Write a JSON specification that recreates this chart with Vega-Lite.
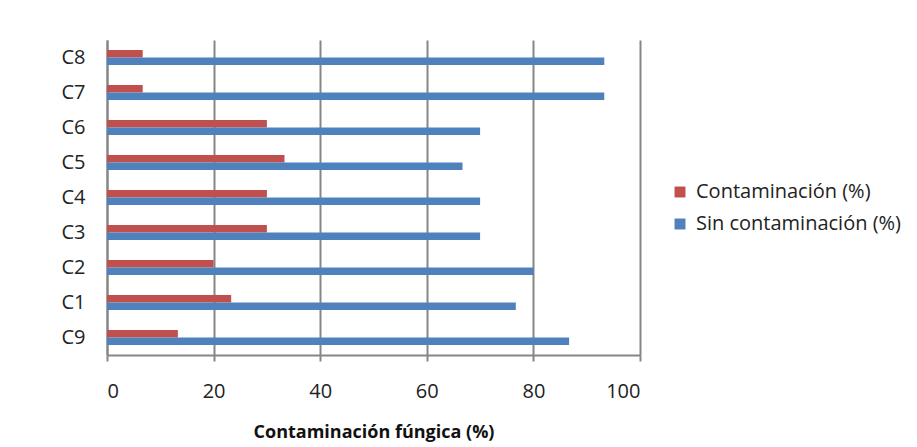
{
  "$schema": "https://vega.github.io/schema/vega-lite/v6.json",
  "autosize": "none",
  "width": 533,
  "height": 315,
  "padding": {"left": 107, "top": 40, "right": 277, "bottom": 92},
  "background": "white",
  "config": {
    "font": "Open Sans",
    "view": {"stroke": null}
  },
  "data": {
    "values": [
      {"cat": "C8", "serie": "Contaminación (%)", "valor": 6.7},
      {"cat": "C8", "serie": "Sin contaminación (%)", "valor": 93.3},
      {"cat": "C7", "serie": "Contaminación (%)", "valor": 6.7},
      {"cat": "C7", "serie": "Sin contaminación (%)", "valor": 93.3},
      {"cat": "C6", "serie": "Contaminación (%)", "valor": 30},
      {"cat": "C6", "serie": "Sin contaminación (%)", "valor": 70},
      {"cat": "C5", "serie": "Contaminación (%)", "valor": 33.3},
      {"cat": "C5", "serie": "Sin contaminación (%)", "valor": 66.7},
      {"cat": "C4", "serie": "Contaminación (%)", "valor": 30},
      {"cat": "C4", "serie": "Sin contaminación (%)", "valor": 70},
      {"cat": "C3", "serie": "Contaminación (%)", "valor": 30},
      {"cat": "C3", "serie": "Sin contaminación (%)", "valor": 70},
      {"cat": "C2", "serie": "Contaminación (%)", "valor": 20},
      {"cat": "C2", "serie": "Sin contaminación (%)", "valor": 80},
      {"cat": "C1", "serie": "Contaminación (%)", "valor": 23.3},
      {"cat": "C1", "serie": "Sin contaminación (%)", "valor": 76.7},
      {"cat": "C9", "serie": "Contaminación (%)", "valor": 13.3},
      {"cat": "C9", "serie": "Sin contaminación (%)", "valor": 86.7}
    ]
  },
  "mark": {"type": "bar"},
  "encoding": {
    "y": {
      "field": "cat",
      "type": "nominal",
      "sort": ["C8", "C7", "C6", "C5", "C4", "C3", "C2", "C1", "C9"],
      "scale": {"paddingInner": 0.57, "paddingOuter": 0.285},
      "axis": {
        "title": null,
        "ticks": false,
        "labelPadding": 22,
        "labelFontSize": 20,
        "labelColor": "#222222",
        "domainColor": "#868686",
        "domainWidth": 2
      }
    },
    "yOffset": {
      "field": "serie",
      "type": "nominal",
      "sort": ["Contaminación (%)", "Sin contaminación (%)"]
    },
    "x": {
      "field": "valor",
      "type": "quantitative",
      "scale": {"domain": [0, 100], "nice": false},
      "axis": {
        "values": [0, 20, 40, 60, 80, 100],
        "title": "Contaminación fúngica (%)",
        "titleFontSize": 18,
        "titleFontWeight": "bold",
        "titleColor": "#111111",
        "titlePadding": 22,
        "labelFontSize": 20,
        "labelColor": "#222222",
        "labelPadding": 20,
        "tickSize": 6,
        "tickColor": "#868686",
        "tickWidth": 2,
        "domainColor": "#868686",
        "domainWidth": 2,
        "grid": true,
        "gridColor": "#868686",
        "gridWidth": 2
      }
    },
    "color": {
      "field": "serie",
      "type": "nominal",
      "sort": ["Contaminación (%)", "Sin contaminación (%)"],
      "scale": {"domain": ["Contaminación (%)", "Sin contaminación (%)"], "range": ["#C0504D", "#4F81BD"]},
      "legend": {
        "title": null,
        "orient": "none",
        "legendX": 563,
        "legendY": 142,
        "symbolType": "square",
        "symbolSize": 120,
        "symbolStrokeWidth": 0,
        "labelFontSize": 20,
        "labelLimit": 400,
        "labelColor": "#222222",
        "rowPadding": 12,
        "labelOffset": 6
      }
    }
  }
}
